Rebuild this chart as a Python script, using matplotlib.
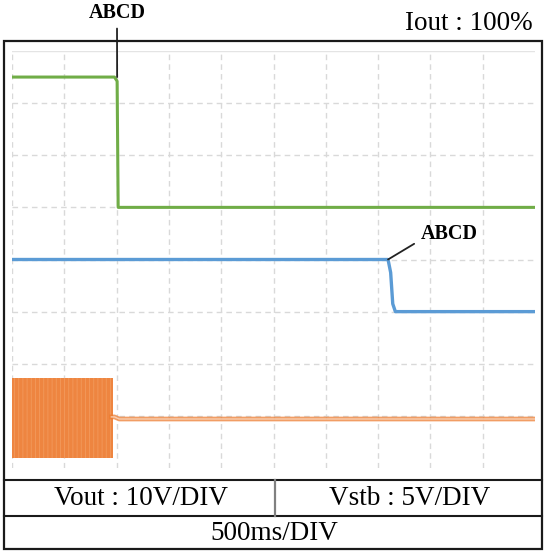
import matplotlib
matplotlib.use("Agg")
import matplotlib.pyplot as plt
from matplotlib.patches import Rectangle
from matplotlib.lines import Line2D

# ---------------- data (in divisions) ----------------
green_x = [0.0, 1.96, 2.01, 2.03, 10.0]
green_y = [7.5, 7.5, 7.42, 5.0, 5.0]

blue_x = [0.0, 7.19, 7.24, 7.28, 7.33, 10.0]
blue_y = [4.0, 4.0, 3.75, 3.15, 3.0, 3.0]

orange_burst_x = [0.0, 1.94]
orange_burst_top = [1.73, 1.73]
orange_burst_bottom = [0.19, 0.19]
orange_x = [1.90, 1.96, 2.05, 10.0]
orange_y = [0.98, 0.98, 0.94, 0.94]

annot_text = "ABCD"
corner_label = "Iout : 100%"
table_left = "Vout : 10V/DIV"
table_right = "Vstb : 5V/DIV"
table_bottom = "500ms/DIV"

W, H = 545, 552
def fx(px): return px / W
def fy(py): return 1 - py / H

plt.rcParams['font.family'] = ['Liberation Serif', 'DejaVu Serif']
plt.rcParams['hatch.linewidth'] = 0.6

fig = plt.figure(figsize=(W / 100, H / 100), dpi=100)
fig.patch.set_facecolor('white')

# plot area
x0, x1, y0, y1 = 12, 535, 51, 468
ax = fig.add_axes([fx(x0), fy(y1), fx(x1) - fx(x0), (y1 - y0) / H])
ax.set_xlim(0, 10)
ax.set_ylim(0, 8)
ax.axis('off')

grid_c = '#D9D9D9'
for gx in range(0, 10):
    ax.axvline(gx, color=grid_c, lw=1.0, ls=(0, (4, 3)), zorder=0)
for gy in range(1, 8):
    ax.axhline(gy, color=grid_c, lw=1.0, ls=(0, (4, 3)), zorder=0)
ax.axhline(8, color='#E4E4E4', lw=1.0, zorder=0)

green = '#70AD47'
blue = '#5B9BD5'
orange = '#ED7D31'

ax.plot(green_x, green_y, color=green, lw=2.2, solid_joinstyle='round', zorder=3)
ax.plot(blue_x, blue_y, color=blue, lw=2.4, solid_joinstyle='round', zorder=3)

ax.fill_between(orange_burst_x, orange_burst_bottom, orange_burst_top,
                color='#EE8540', lw=0, zorder=2)
ax.fill_between(orange_burst_x, orange_burst_bottom, orange_burst_top,
                facecolor='none', edgecolor='#F29A5C', hatch='||||', lw=0, zorder=2)
ax.plot(orange_x, orange_y, color=orange, lw=3.4, alpha=0.75, zorder=3)
ax.plot(orange_x, orange_y, color='#F9CDAE', lw=1.0, zorder=4)

# annotations
ax.annotate(annot_text, xy=(green_x[2], green_y[0]), xycoords='data',
            xytext=(117, H - 13), textcoords='figure pixels',
            ha='center', va='center', fontsize=14.5, fontweight='bold',
            arrowprops=dict(arrowstyle='-', color='#222222', lw=1.3,
                            shrinkA=2, shrinkB=0, relpos=(0.5, 0)))
ax.annotate(annot_text, xy=(blue_x[1], blue_y[0]), xycoords='data',
            xytext=(449, H - 234), textcoords='figure pixels',
            ha='center', va='center', fontsize=14.5, fontweight='bold',
            arrowprops=dict(arrowstyle='-', color='#222222', lw=1.3,
                            shrinkA=3, shrinkB=0, relpos=(0, 0.2)))

fig.text(fx(533), fy(24), corner_label, ha='right', va='center', fontsize=19.5)

# outer box and table
bl, br, bt, bb = 4, 542, 41, 549
fig.patches.append(Rectangle((fx(bl), fy(bb)), fx(br) - fx(bl), (bb - bt) / H,
                             transform=fig.transFigure, fill=False,
                             edgecolor='#1A1A1A', lw=1.6, zorder=10))
fig.lines.append(Line2D([fx(bl), fx(br)], [fy(480), fy(480)],
                        transform=fig.transFigure, color='#1A1A1A', lw=1.5))
fig.lines.append(Line2D([fx(bl), fx(br)], [fy(516), fy(516)],
                        transform=fig.transFigure, color='#1A1A1A', lw=1.5))
fig.lines.append(Line2D([fx(275), fx(275)], [fy(480), fy(516)],
                        transform=fig.transFigure, color='#808080', lw=1.6))

fig.text(fx(141), fy(498.5), table_left, ha='center', va='center', fontsize=19.5)
fig.text(fx(410), fy(498.5), table_right, ha='center', va='center', fontsize=19.5)
fig.text(fx(274), fy(533.5), table_bottom, ha='center', va='center', fontsize=19.5)

fig.savefig('out.png', dpi=100, facecolor='white')
